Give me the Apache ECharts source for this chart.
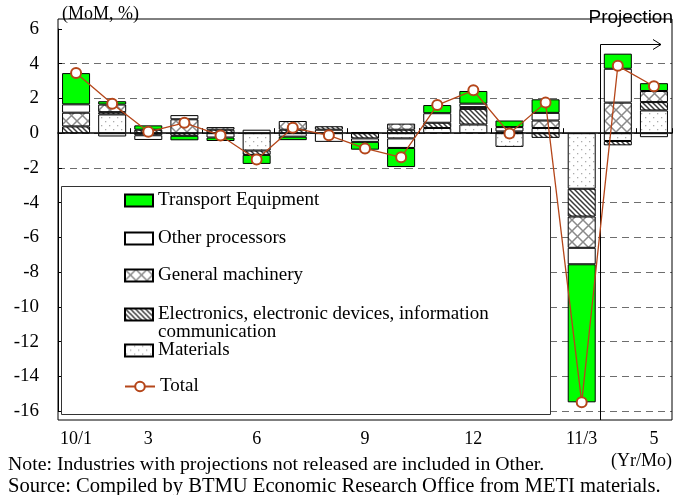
<!DOCTYPE html>
<html>
<head>
<meta charset="utf-8">
<script src="https://cdn.jsdelivr.net/npm/echarts@6/dist/echarts.min.js"></script>
<style>
  html, body { margin: 0; padding: 0; background: #fff; }
  #chart { width: 681px; height: 495px; }
</style>
</head>
<body>
<div id="chart"></div>
<script>
// Month-on-month change in industrial production, contributions by industry (%)
const categories = ['10/1','10/2','10/3','10/4','10/5','10/6','10/7','10/8','10/9','10/10','10/11','10/12','11/1','11/2','11/3','11/4','11/5'];
const tickLabels = ['10/1','','3','','','6','','','9','','','12','','','11/3','','5'];

const materials   = [0,    1.08, 0,     0,     0,     -1.0,  -0.2, 0.2,  0.05, -0.3,  0.3,  0.5,  -0.79, 0.3,   -3.2,  -0.45, 1.31];
const electronics = [0.39, 0.13, 0.2,   -0.15, 0.2,   -0.25, 0.2,  0.2,  -0.3, 0.2,   0.3,  0.9,  0.1,   -0.27, -1.6,  -0.25, 0.48];
const machinery   = [0.79, 0.44, -0.12, 0.8,   0.15,  0,     0.5,  0,    0,    0.35,  0,    0.1,  0,     0.43,  -1.8,  1.76,  0.64];
const otherProc   = [0.48, -0.19,-0.27, 0.24,  -0.25, 0.2,   0,    -0.5, -0.2, -0.55, 0.55, 0.2,  0.25,  0.44,  -0.95, 1.95,  -0.23];
const transport   = [1.8,  0.19, 0.25,  -0.26, -0.2,  -0.52, -0.2, 0,    -0.45,-1.1,  0.47, 0.73, 0.38,  0.78,  -7.95, 0.87,  0.45];
const total       = [3.46, 1.70, 0.08,  0.60,  -0.13, -1.52, 0.31, -0.12,-0.88,-1.39, 1.62, 2.47, -0.02, 1.76,  -15.5, 3.88,  2.70];

const yTicks = { min: -16, max: 6, step: 2 };

const SERIF = "'Liberation Serif', 'DejaVu Serif', serif";
const SANS = "'Liberation Sans', Arial, sans-serif";

function tile(size, draw) {
  const c = document.createElement('canvas');
  c.width = size; c.height = size;
  const ctx = c.getContext('2d');
  ctx.fillStyle = '#ffffff';
  ctx.fillRect(0, 0, size, size);
  draw(ctx, size);
  return { image: c, repeat: 'repeat' };
}

const dotFill = tile(8, (ctx) => {
  ctx.fillStyle = '#ababab';
  ctx.fillRect(1, 1, 1.3, 1.3);
  ctx.fillRect(5, 5, 1.3, 1.3);
});
const hatchFill = tile(5, (ctx, s) => {
  ctx.strokeStyle = '#3a3a3a';
  ctx.lineWidth = 1.5;
  ctx.beginPath();
  ctx.moveTo(-1, -1); ctx.lineTo(s + 1, s + 1);
  ctx.moveTo(-1, s - 1); ctx.lineTo(1, s + 1);
  ctx.moveTo(s - 1, -1); ctx.lineTo(s + 1, 1);
  ctx.stroke();
});
const crossFill = tile(11, (ctx, s) => {
  ctx.strokeStyle = '#8a8a8a';
  ctx.lineWidth = 1.5;
  ctx.beginPath();
  ctx.moveTo(0, 0); ctx.lineTo(s, s);
  ctx.moveTo(s, 0); ctx.lineTo(0, s);
  ctx.stroke();
});

const orNone = (arr) => arr.map(v => (v === 0 ? '-' : v));

function barSeries(name, values, fill) {
  return {
    name: name,
    type: 'bar',
    stack: 'ind',
    barWidth: 28,
    data: orNone(values),
    itemStyle: { color: fill, borderColor: '#000', borderWidth: 1 },
    emphasis: { disabled: true },
    animation: false
  };
}

const names = {
  transport: 'Transport Equipment',
  other: 'Other processors',
  machinery: 'General machinery',
  electronics: 'Electronics, electronic devices, information communication',
  materials: 'Materials',
  total: 'Total'
};

const legendText = { fontFamily: SERIF, fontSize: 19, color: '#000', lineHeight: 18 };

function legendAt(name, centerY, extra) {
  return Object.assign({
    data: [name],
    left: 124,
    top: centerY - 9,
    orient: 'vertical',
    padding: 0,
    icon: 'rect',
    itemWidth: 28,
    itemHeight: 12,
    itemGap: 0,
    selectedMode: false,
    z: 10,
    textStyle: legendText
  }, extra || {});
}

const chart = echarts.init(document.getElementById('chart'), null, { renderer: 'canvas' });

chart.setOption({
  animation: false,
  backgroundColor: '#fff',
  grid: { left: 58, right: 9, top: 29, bottom: 84 },
  xAxis: [
    {
      type: 'category',
      data: categories,
      position: 'top',
      axisLine: { onZero: true, lineStyle: { color: '#000', width: 1.5 } },
      axisTick: { show: true, inside: false, length: 5, lineStyle: { color: '#000' } },
      axisLabel: { show: false },
      splitLine: { show: false }
    },
    {
      type: 'category',
      data: categories,
      position: 'bottom',
      axisLine: { show: false, onZero: false },
      axisTick: { show: false },
      axisLabel: {
        interval: 0,
        margin: 19,
        fontFamily: SERIF,
        fontSize: 18,
        color: '#000',
        formatter: (v, i) => tickLabels[i]
      },
      splitLine: { show: false }
    }
  ],
  yAxis: {
    type: 'value',
    min: yTicks.min,
    max: yTicks.max,
    interval: yTicks.step,
    axisLine: { show: true, lineStyle: { color: '#000', width: 1 } },
    axisTick: { show: true, inside: true, length: 4, lineStyle: { color: '#000' } },
    axisLabel: { margin: 19, fontFamily: SERIF, fontSize: 19, color: '#000' },
    splitLine: {
      show: true,
      showMaxLine: false,
      lineStyle: { color: '#6e6e6e', type: [7, 5], width: 1.2 }
    }
  },
  legend: [
    legendAt(names.transport, 200),
    legendAt(names.other, 238),
    legendAt(names.machinery, 275),
    legendAt(names.electronics, 314, {
      top: 314 - 27,
      formatter: () => '\nElectronics, electronic devices, information\ncommunication'
    }),
    legendAt(names.materials, 350),
    legendAt(names.total, 386, { itemWidth: 30, icon: null })
  ],
  graphic: [
    {
      type: 'rect', silent: true, z: 1,
      shape: { x: 58, y: 19, width: 614, height: 401 },
      style: { fill: 'none', stroke: '#000', lineWidth: 1 }
    },
    {
      type: 'rect', silent: true, z: 1,
      shape: { x: 61.5, y: 186.5, width: 489, height: 228 },
      style: { fill: '#fff', stroke: '#333', lineWidth: 1 }
    },
    {
      type: 'polyline', silent: true, z: 3,
      shape: { points: [[600.5, 420], [600.5, 44.5], [661, 44.5]] },
      style: { fill: 'none', stroke: '#000', lineWidth: 1 }
    },
    {
      type: 'polyline', silent: true, z: 3,
      shape: { points: [[653, 39.5], [661, 44.5], [653, 49.5]] },
      style: { fill: 'none', stroke: '#000', lineWidth: 1 }
    },
    {
      type: 'text', silent: true, z: 3,
      style: { text: '(MoM, %)', x: 62, y: 14, fontFamily: SERIF, fontSize: 18, fill: '#000', verticalAlign: 'middle' }
    },
    {
      type: 'text', silent: true, z: 3,
      style: { text: 'Projection', x: 673, y: 18, fontFamily: SANS, fontSize: 19, fill: '#000', align: 'right', verticalAlign: 'middle' }
    },
    {
      type: 'text', silent: true, z: 3,
      style: { text: '(Yr/Mo)', x: 672, y: 461, fontFamily: SERIF, fontSize: 18, fill: '#000', align: 'right', verticalAlign: 'middle' }
    },
    {
      type: 'text', silent: true, z: 3,
      style: { text: 'Note: Industries with projections not released are included in Other.', x: 8, y: 465, fontFamily: SERIF, fontSize: 19.8, fill: '#000', verticalAlign: 'middle' }
    },
    {
      type: 'text', silent: true, z: 3,
      style: { text: 'Source: Compiled by BTMU Economic Research Office from METI materials.', x: 8, y: 487, fontFamily: SERIF, fontSize: 20.6, fill: '#000', verticalAlign: 'middle' }
    }
  ],
  series: [
    barSeries(names.materials, materials, dotFill),
    barSeries(names.electronics, electronics, hatchFill),
    barSeries(names.machinery, machinery, crossFill),
    barSeries(names.other, otherProc, '#ffffff'),
    barSeries(names.transport, transport, '#00ff00'),
    {
      name: names.total,
      type: 'line',
      data: total,
      z: 5,
      symbol: 'emptyCircle',
      symbolSize: 10,
      lineStyle: { color: '#b5461a', width: 1.3 },
      itemStyle: { color: '#b5461a', borderWidth: 1.3 },
      emphasis: { disabled: true },
      animation: false
    }
  ]
});
</script>
</body>
</html>
